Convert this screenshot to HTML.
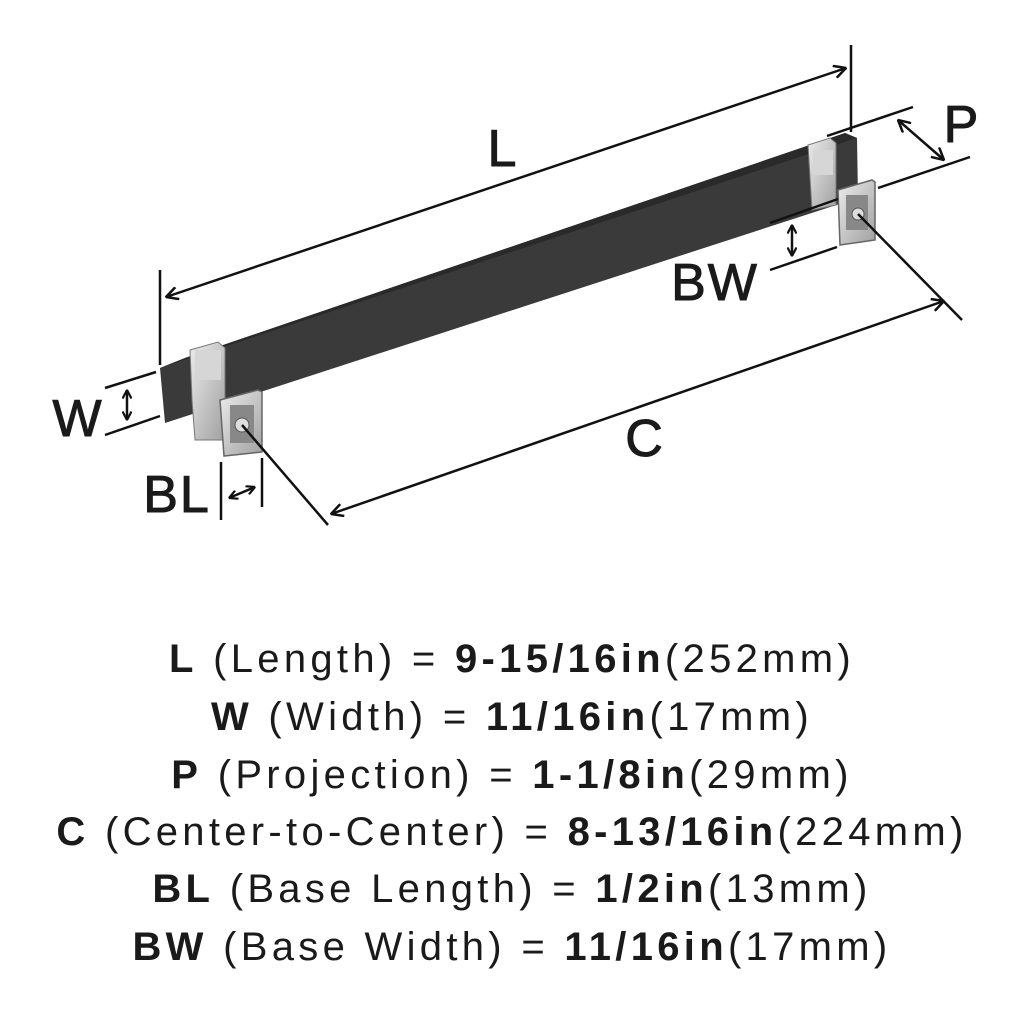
<!DOCTYPE html>
<html><head><style>
body{margin:0;background:#fff;width:1024px;height:1024px;overflow:hidden;font-family:"Liberation Sans",sans-serif}
svg{position:absolute;left:0;top:0}
</style></head><body>
<svg width="1024" height="1024" viewBox="0 0 1024 1024">
<defs>
<marker id="a" viewBox="0 0 10 10" refX="9.5" refY="5" markerWidth="14" markerHeight="14" markerUnits="userSpaceOnUse" orient="auto-start-reverse"><path d="M1,0.5 L9.5,5 L1,9.5" fill="none" stroke="#111" stroke-width="1.8"/></marker>
<marker id="s" viewBox="0 0 10 10" refX="9.5" refY="5" markerWidth="10" markerHeight="10" markerUnits="userSpaceOnUse" orient="auto-start-reverse"><path d="M1,0.5 L9.5,5 L1,9.5" fill="none" stroke="#111" stroke-width="2.2"/></marker>
<linearGradient id="g" x1="0" y1="0" x2="1" y2="1"><stop offset="0" stop-color="#ececec"/><stop offset="1" stop-color="#a0a0a0"/></linearGradient>
</defs>
<polygon points="160,368 185,358 845,133 857,138 858,198 165,423" fill="#3a3a3a"/>
<polygon points="160,368 185,358 845,133 857,138" fill="#2a2a2a"/>
<polygon points="190,350 218,342 225,348 225,440 195,440 192,400" fill="url(#g)" stroke="#777" stroke-width="1"/>
<rect x="195" y="350" width="26" height="30" fill="#d6d6d6"/>
<polygon points="220,400 258,390 262,392 262,452 224,456" fill="url(#g)" stroke="#666" stroke-width="1.5"/>
<rect x="230" y="405" width="24" height="38" fill="#888"/>
<circle cx="242" cy="425" r="7" fill="#ddd" stroke="#555"/>
<polygon points="808,145 830,138 836,143 836,205 812,210" fill="url(#g)" stroke="#777" stroke-width="1"/>
<rect x="813" y="150" width="20" height="25" fill="#d6d6d6"/>
<polygon points="838,190 872,180 875,182 875,240 840,245" fill="url(#g)" stroke="#666" stroke-width="1.5"/>
<rect x="846" y="195" width="22" height="35" fill="#888"/>
<circle cx="858" cy="214" r="6" fill="#ddd" stroke="#555"/>
<g stroke="#111" stroke-width="2.5" fill="none">
<line x1="160" y1="270" x2="160" y2="365"/>
<line x1="851" y1="45" x2="851" y2="132"/>
<line x1="166" y1="297" x2="846" y2="68" marker-start="url(#a)" marker-end="url(#a)"/>
<line x1="827" y1="136" x2="913" y2="107"/>
<line x1="878" y1="188" x2="970" y2="157"/>
<line x1="898" y1="120" x2="944" y2="160" marker-start="url(#a)" marker-end="url(#a)"/>
<line x1="770" y1="223" x2="838" y2="199"/>
<line x1="770" y1="270" x2="837" y2="247"/>
<line x1="792" y1="225" x2="792" y2="256" marker-start="url(#s)" marker-end="url(#s)"/>
<line x1="242" y1="425" x2="328" y2="525"/>
<line x1="858" y1="214" x2="962" y2="320"/>
<line x1="331" y1="514" x2="944" y2="301" marker-start="url(#a)" marker-end="url(#a)"/>
<line x1="105" y1="388" x2="156" y2="372"/>
<line x1="105" y1="435" x2="160" y2="416"/>
<line x1="127" y1="390" x2="127" y2="420" marker-start="url(#s)" marker-end="url(#s)"/>
<line x1="221" y1="462" x2="221" y2="520"/>
<line x1="262" y1="458" x2="262" y2="507"/>
<line x1="229" y1="498" x2="255" y2="487" marker-start="url(#s)" marker-end="url(#s)"/>
</g>
<g fill="#1a1a1a" font-size="52" font-family="Liberation Sans, sans-serif" text-anchor="middle" letter-spacing="2" stroke="#1a1a1a" stroke-width="1">
<text x="503" y="166">L</text>
<text x="962" y="142">P</text>
<text x="715" y="300">BW</text>
<text x="645" y="456">C</text>
<text x="78" y="436">W</text>
<text x="177" y="512">BL</text>
</g>
<g fill="#1a1a1a" font-size="40" font-family="Liberation Sans, sans-serif" text-anchor="middle" letter-spacing="4.3">
<text x="512" y="672"><tspan font-weight="bold">L</tspan> (Length) = <tspan font-weight="bold">9-15/16in</tspan>(252mm)</text>
<text x="512" y="730"><tspan font-weight="bold">W</tspan> (Width) = <tspan font-weight="bold">11/16in</tspan>(17mm)</text>
<text x="512" y="788"><tspan font-weight="bold">P</tspan> (Projection) = <tspan font-weight="bold">1-1/8in</tspan>(29mm)</text>
<text x="512" y="845"><tspan font-weight="bold">C</tspan> (Center-to-Center) = <tspan font-weight="bold">8-13/16in</tspan>(224mm)</text>
<text x="512" y="902"><tspan font-weight="bold">BL</tspan> (Base Length) = <tspan font-weight="bold">1/2in</tspan>(13mm)</text>
<text x="512" y="960"><tspan font-weight="bold">BW</tspan> (Base Width) = <tspan font-weight="bold">11/16in</tspan>(17mm)</text>
</g>
</svg>
</body></html>
